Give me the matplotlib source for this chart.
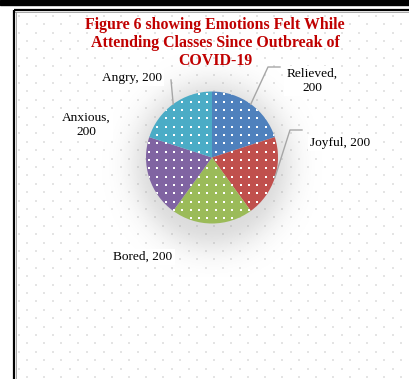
import numpy as np
import matplotlib
matplotlib.use("Agg")
import matplotlib.pyplot as plt
from matplotlib.patches import Circle, Rectangle

# Data
emotions = ["Relieved", "Joyful", "Bored", "Anxious", "Angry"]
counts = [200, 200, 200, 200, 200]
colors = ["#4F81BD", "#C0504D", "#9BBB59", "#8064A2", "#4BACC6"]
title_lines = ["Figure 6 showing Emotions Felt While",
               "Attending Classes Since Outbreak of",
               "COVID-19"]

W, H = 409, 379
fig = plt.figure(figsize=(W / 100, H / 100), dpi=100)
ax = fig.add_axes([0, 0, 1, 1])
ax.set_xlim(0, W)
ax.set_ylim(0, H)
ax.set_aspect("equal")
ax.axis("off")

def Y(py):
    # convert a top-down pixel row into axis y
    return H - py

serif = ["Liberation Serif", "DejaVu Serif"]

# page frame: dark band at the top and the chart border
ax.add_patch(Rectangle((0, Y(4.5)), W, 4.5, color="black", zorder=1))
ax.plot([14, W], [Y(10), Y(10)], color="black", lw=1.6, zorder=1, solid_capstyle="butt")
ax.plot([14, W], [Y(11.5), Y(11.5)], color="#9a9a9a", lw=0.6, zorder=1)
ax.plot([14, 14], [Y(10), 0], color="black", lw=1.6, zorder=1, solid_capstyle="butt")
ax.plot([15.5, 15.5], [Y(11.5), 0], color="#9a9a9a", lw=0.6, zorder=1)

# faint staggered dot texture of the plot area
bx, by = [], []
n = 0
py = 293 - 8.4 * 34
while py < H + 5:
    if py > 13:
        off = 0 if n % 2 == 0 else -8.5
        xs = np.arange(27 + off - 17 * 2, W + 5, 17.0)
        xs = xs[xs > 17]
        bx.extend(xs)
        by.extend([Y(py)] * len(xs))
    py += 8.4
    n += 1
ax.scatter(bx, by, s=1.3, marker="s", color="#e4e4e4", linewidths=0, zorder=2)

# pie geometry
cx, cy, R = 212, 157.5, 66

# soft shadow around the pie
gx = np.linspace(cx - 120, cx + 120, 241)
gy = np.linspace(cy - 120, cy + 120, 241)
GX, GY = np.meshgrid(gx, gy)
d = np.hypot(GX - cx, (GY - (cy + 8)) * 0.95)
alpha = 0.30 * np.exp(-np.clip(d - R + 8, 0, None) ** 2 / (2 * 18.0 ** 2))
img = np.zeros(GX.shape + (4,))
img[..., :3] = 0.55
img[..., 3] = alpha
ax.imshow(img, extent=[gx[0], gx[-1], Y(gy[-1]), Y(gy[0])], origin="upper",
          interpolation="bilinear", zorder=3)

wedges, _ = ax.pie(counts, colors=colors, startangle=90, counterclock=False,
                   center=(cx, Y(cy)), radius=R, frame=True,
                   wedgeprops=dict(linewidth=0, zorder=4))
ax.set_xlim(0, W)
ax.set_ylim(0, H)
ax.axis("off")
for w in wedges:
    w.set_zorder(4)

# white dotted fill over the pie
sp = 8.33
xs = np.arange(cx - R - sp, cx + R + sp, sp) + 3.0
ys = np.arange(cy - R - sp, cy + R + sp, sp) + 2.0
PX, PY = np.meshgrid(xs, ys)
clip = Circle((cx, Y(cy)), R, transform=ax.transData)
dots = ax.scatter(PX.ravel(), Y(PY.ravel()), s=2.4, marker="s", color="white",
                  linewidths=0, zorder=5)
dots.set_clip_path(clip)

# title, one centred line at a time
for k, line in enumerate(title_lines):
    ax.text(215, Y(25 + 18 * k), line, ha="center", va="center", fontsize=11.4,
            fontweight="bold", color="#C00000", family=serif, zorder=7)

lab = [f"{e}, {v}" for e, v in zip(emotions, counts)]
label_pos = {
    "Relieved": (312, 81, f"{emotions[0]},\n{counts[0]}"),
    "Joyful": (340, 143, lab[1]),
    "Bored": (143, 257, lab[2]),
    "Anxious": (86, 125, f"{emotions[3]},\n{counts[3]}"),
    "Angry": (132, 78, lab[4]),
}
for name, (lx, ly, txt) in label_pos.items():
    ax.text(lx, Y(ly), txt, ha="center", va="center", fontsize=9.6, family=serif,
            color="black", linespacing=1.2, zorder=7,
            bbox=dict(facecolor="white", edgecolor="none", pad=1.5))

# leader lines from the wedge midpoints to their labels
def mid_point(w):
    a = np.deg2rad((w.theta1 + w.theta2) / 2)
    return cx + R * np.cos(a), Y(cy) + R * np.sin(a)

leaders = {0: [(280, 67), (268, 67)], 1: [(302, 130), (290, 130)], 4: [(171, 80)]}
for i, pts in leaders.items():
    ex, ey = mid_point(wedges[i])
    xs_ = [p[0] for p in pts] + [ex]
    ys_ = [Y(p[1]) for p in pts] + [ey]
    ax.plot(xs_, ys_, color="#a6a6a6", lw=1.0, zorder=6)

fig.savefig("out.png", dpi=100, facecolor="white")
